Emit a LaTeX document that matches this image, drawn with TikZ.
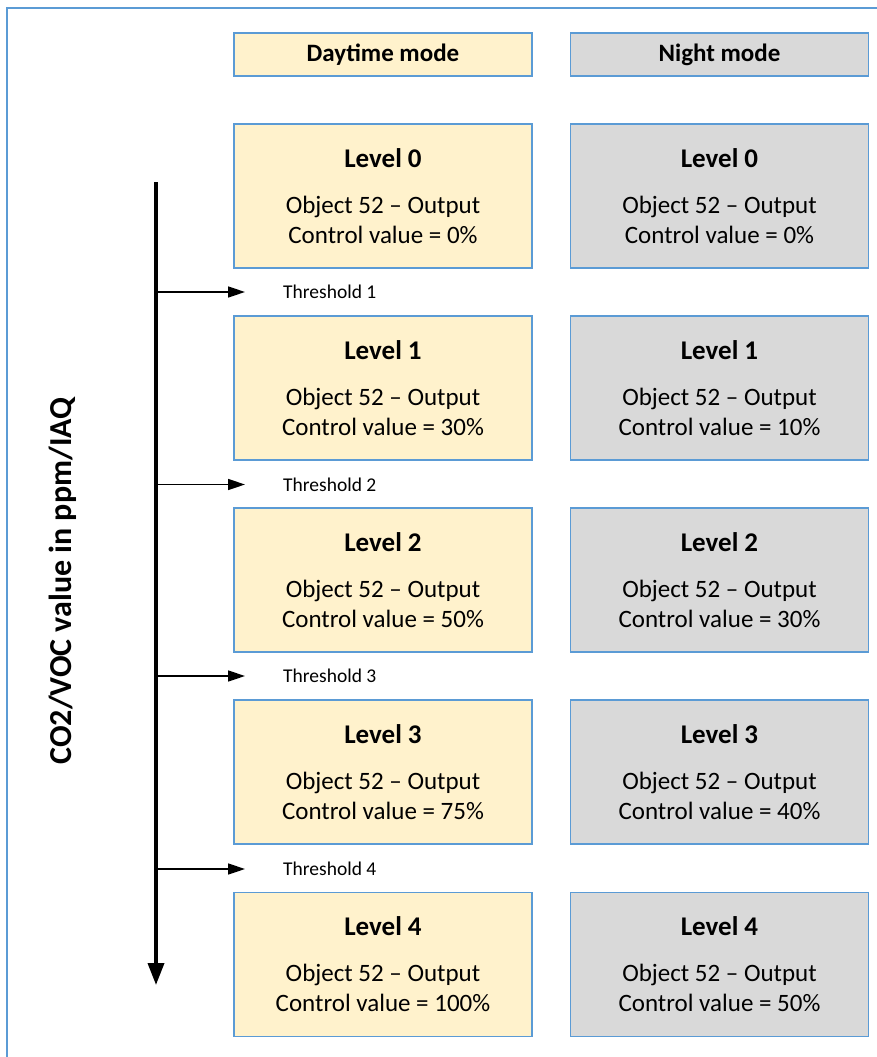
\documentclass[tikz,border=0pt]{standalone}
\usepackage{fontspec}
\setmainfont{Carlito}
\usepackage{tikz}
\usetikzlibrary{arrows.meta}
\definecolor{frameblue}{RGB}{91, 155, 213}
\definecolor{dayfill}{RGB}{255, 242, 204}
\definecolor{nightfill}{RGB}{217, 217, 217}
\newcommand{\lvl}[1]{{\fontsize{27}{30}\selectfont\bfseries Level #1}}

\begin{document}
\begin{tikzpicture}[
    x=1pt, y=-1pt,
    head/.style={rectangle, draw=frameblue, line width=1.2pt, minimum width=298pt, minimum height=43pt, font=\fontsize{25}{30}\selectfont\bfseries},
    daybox/.style={rectangle, draw=frameblue, line width=1.2pt, fill=dayfill, minimum width=298pt, minimum height=144pt, align=center, font=\fontsize{25}{30}\selectfont},
    nightbox/.style={daybox, fill=nightfill},
    thlabel/.style={anchor=west, inner sep=0pt, font=\fontsize{19.5}{22}\selectfont},
    axis/.style={-{Triangle[length=22pt, width=16pt]}, line width=3.6pt},
    tharrow/.style={-{Triangle[length=17pt, width=11pt]}, line width=1.6pt}
]
    \useasboundingbox (0,0) rectangle (877,1057);
    % Frame
    \draw[frameblue, line width=1.2pt] (877,8) -- (7,8) -- (7,1057);

    % Headers
    \node[head, fill=dayfill] (dayhead) at (383,54.5) {Daytime mode};
    \node[head, fill=nightfill] (nighthead) at (719.5,54.5) {Night mode};

    % Daytime levels
    \node[daybox] (day0) at (383,196) {\lvl{0}\\[16pt]Object 52 – Output\\Control value = 0\%};
    \node[daybox] (day1) at (383,388) {\lvl{1}\\[16pt]Object 52 – Output\\Control value = 30\%};
    \node[daybox] (day2) at (383,580) {\lvl{2}\\[16pt]Object 52 – Output\\Control value = 50\%};
    \node[daybox] (day3) at (383,772) {\lvl{3}\\[16pt]Object 52 – Output\\Control value = 75\%};
    \node[daybox] (day4) at (383,964.5) {\lvl{4}\\[16pt]Object 52 – Output\\Control value = 100\%};

    % Night levels
    \node[nightbox] (night0) at (719.5,196) {\lvl{0}\\[16pt]Object 52 – Output\\Control value = 0\%};
    \node[nightbox] (night1) at (719.5,388) {\lvl{1}\\[16pt]Object 52 – Output\\Control value = 10\%};
    \node[nightbox] (night2) at (719.5,580) {\lvl{2}\\[16pt]Object 52 – Output\\Control value = 30\%};
    \node[nightbox] (night3) at (719.5,772) {\lvl{3}\\[16pt]Object 52 – Output\\Control value = 40\%};
    \node[nightbox] (night4) at (719.5,964.5) {\lvl{4}\\[16pt]Object 52 – Output\\Control value = 50\%};

    % Value axis
    \coordinate (axtop) at (156,182);
    \coordinate (axbot) at (156,985);
    \draw[axis] (axtop) -- (axbot);
    \node[rotate=90, font=\fontsize{32}{36}\selectfont\bfseries] (axlabel) at (63,581) {CO2/VOC value in ppm/IAQ};

    % Thresholds
    \node[thlabel] (th1) at (283,292) {Threshold 1};
    \node[thlabel] (th2) at (283,484.5) {Threshold 2};
    \node[thlabel] (th3) at (283,676) {Threshold 3};
    \node[thlabel] (th4) at (283,869) {Threshold 4};
    \draw[tharrow] (axtop |- th1.west) -- ([xshift=-38pt]th1.west);
    \draw[tharrow] (axtop |- th2.west) -- ([xshift=-38pt]th2.west);
    \draw[tharrow] (axtop |- th3.west) -- ([xshift=-38pt]th3.west);
    \draw[tharrow] (axtop |- th4.west) -- ([xshift=-38pt]th4.west);
\end{tikzpicture}
\end{document}
